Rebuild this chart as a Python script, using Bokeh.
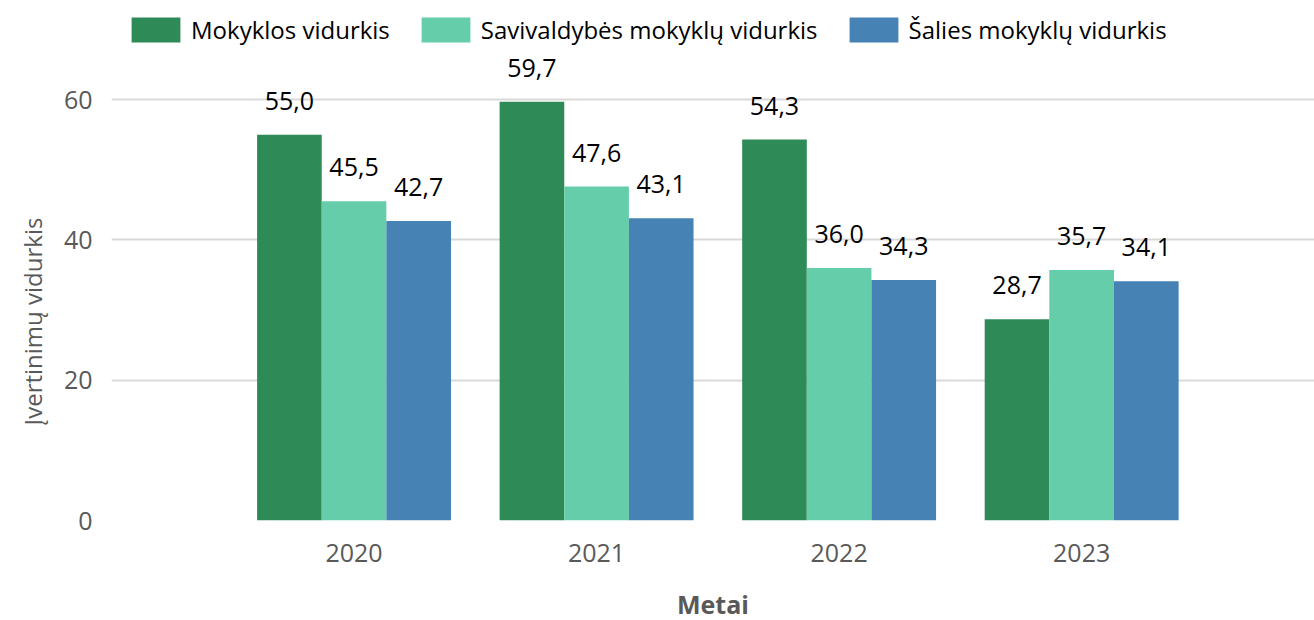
from bokeh.plotting import figure
from bokeh.models import ColumnDataSource, Range1d, FixedTicker, LabelSet, Legend, LegendItem, Title
from bokeh.core.properties import value
from bokeh.transform import dodge
from bokeh.embed import file_html
from bokeh.resources import INLINE

years = [2020, 2021, 2022, 2023]
mokyklos = [55.0, 59.7, 54.3, 28.7]
savivaldybes = [45.5, 47.6, 36.0, 35.7]
salies = [42.7, 43.1, 34.3, 34.1]
series_names = ["Mokyklos vidurkis", "Savivaldybės mokyklų vidurkis", "Šalies mokyklų vidurkis"]
series_keys = ["mokyklos", "savivaldybes", "salies"]
colors = ["#2E8B57", "#66CDAA", "#4682B4"]
y_ticks = [0, 20, 40, 60]
x_title = "Metai"
y_title = "Įvertinimų vidurkis"

FONT = "Open Sans"
GRAY = "#595959"

def fmt(v):
    return f"{v:.1f}".replace(".", ",")

data = dict(year=years, mokyklos=mokyklos, savivaldybes=savivaldybes, salies=salies,
            mokyklos_lbl=[fmt(v) for v in mokyklos],
            savivaldybes_lbl=[fmt(v) for v in savivaldybes],
            salies_lbl=[fmt(v) for v in salies])
src = ColumnDataSource(data)

# frame spans the legend area too; gridlines only at y_ticks
p = figure(frame_width=1203, frame_height=520, min_border_left=111, min_border_right=0,
           min_border_top=0, min_border_bottom=100,
           x_range=Range1d(2019.0, 2023.96), y_range=Range1d(0, 74.13),
           output_backend="svg", toolbar_location=None)

bw = 0.2665
offsets = [-bw, 0.0, bw]
renderers = []
for key, col, off in zip(series_keys, colors, offsets):
    r = p.vbar(x=dodge("year", off, range=p.x_range), top=key, width=bw, bottom=0,
               source=src, fill_color=col, line_color=None)
    renderers.append(r)
    lbl = LabelSet(x=dodge("year", off, range=p.x_range), y=key, text=key + "_lbl", source=src,
                   text_align="center", text_baseline="alphabetic", y_offset=25,
                   text_font=value(FONT), text_font_size="25px", text_color="#000000")
    p.add_layout(lbl)

legend = Legend(items=[LegendItem(label=n, renderers=[r]) for n, r in zip(series_names, renderers)],
                orientation="horizontal", location=(14, 474),
                glyph_width=61, glyph_height=31, label_standoff=5, spacing=25,
                padding=0, margin=0, border_line_color=None, background_fill_alpha=0,
                label_text_font=FONT, label_text_font_size="24px", label_text_color="#000000")
p.add_layout(legend)

p.outline_line_color = None
p.xgrid.grid_line_color = None
p.ygrid.grid_line_color = "#d9d9d9"
p.ygrid.grid_line_width = 2
p.ygrid.ticker = FixedTicker(ticks=y_ticks)

p.xaxis.ticker = FixedTicker(ticks=years)
p.xaxis.major_label_overrides = {y: str(y) for y in years}
p.yaxis.ticker = FixedTicker(ticks=y_ticks)
p.yaxis.major_label_overrides = {t: str(t) for t in y_ticks}

for ax in (p.xaxis[0], p.yaxis[0]):
    ax.axis_line_color = None
    ax.major_tick_line_color = None
    ax.minor_tick_line_color = None
    ax.major_label_text_font = FONT
    ax.major_label_text_font_size = "25px"
    ax.major_label_text_color = GRAY
    ax.axis_label_text_font = FONT
    ax.axis_label_text_color = GRAY

p.xaxis.major_label_standoff = 17
p.yaxis.major_label_standoff = 13
p.xaxis.axis_label = x_title
p.xaxis.axis_label_text_font_style = "bold"
p.xaxis.axis_label_text_font_size = "25px"
p.xaxis.axis_label_standoff = 22

ytitle = Title(text=y_title, align="left", offset=95, standoff=24,
               text_font=FONT, text_font_size="24px", text_font_style="normal",
               text_color=GRAY)
p.add_layout(ytitle, "left")

open("out.html", "w").write(file_html(p, INLINE))
